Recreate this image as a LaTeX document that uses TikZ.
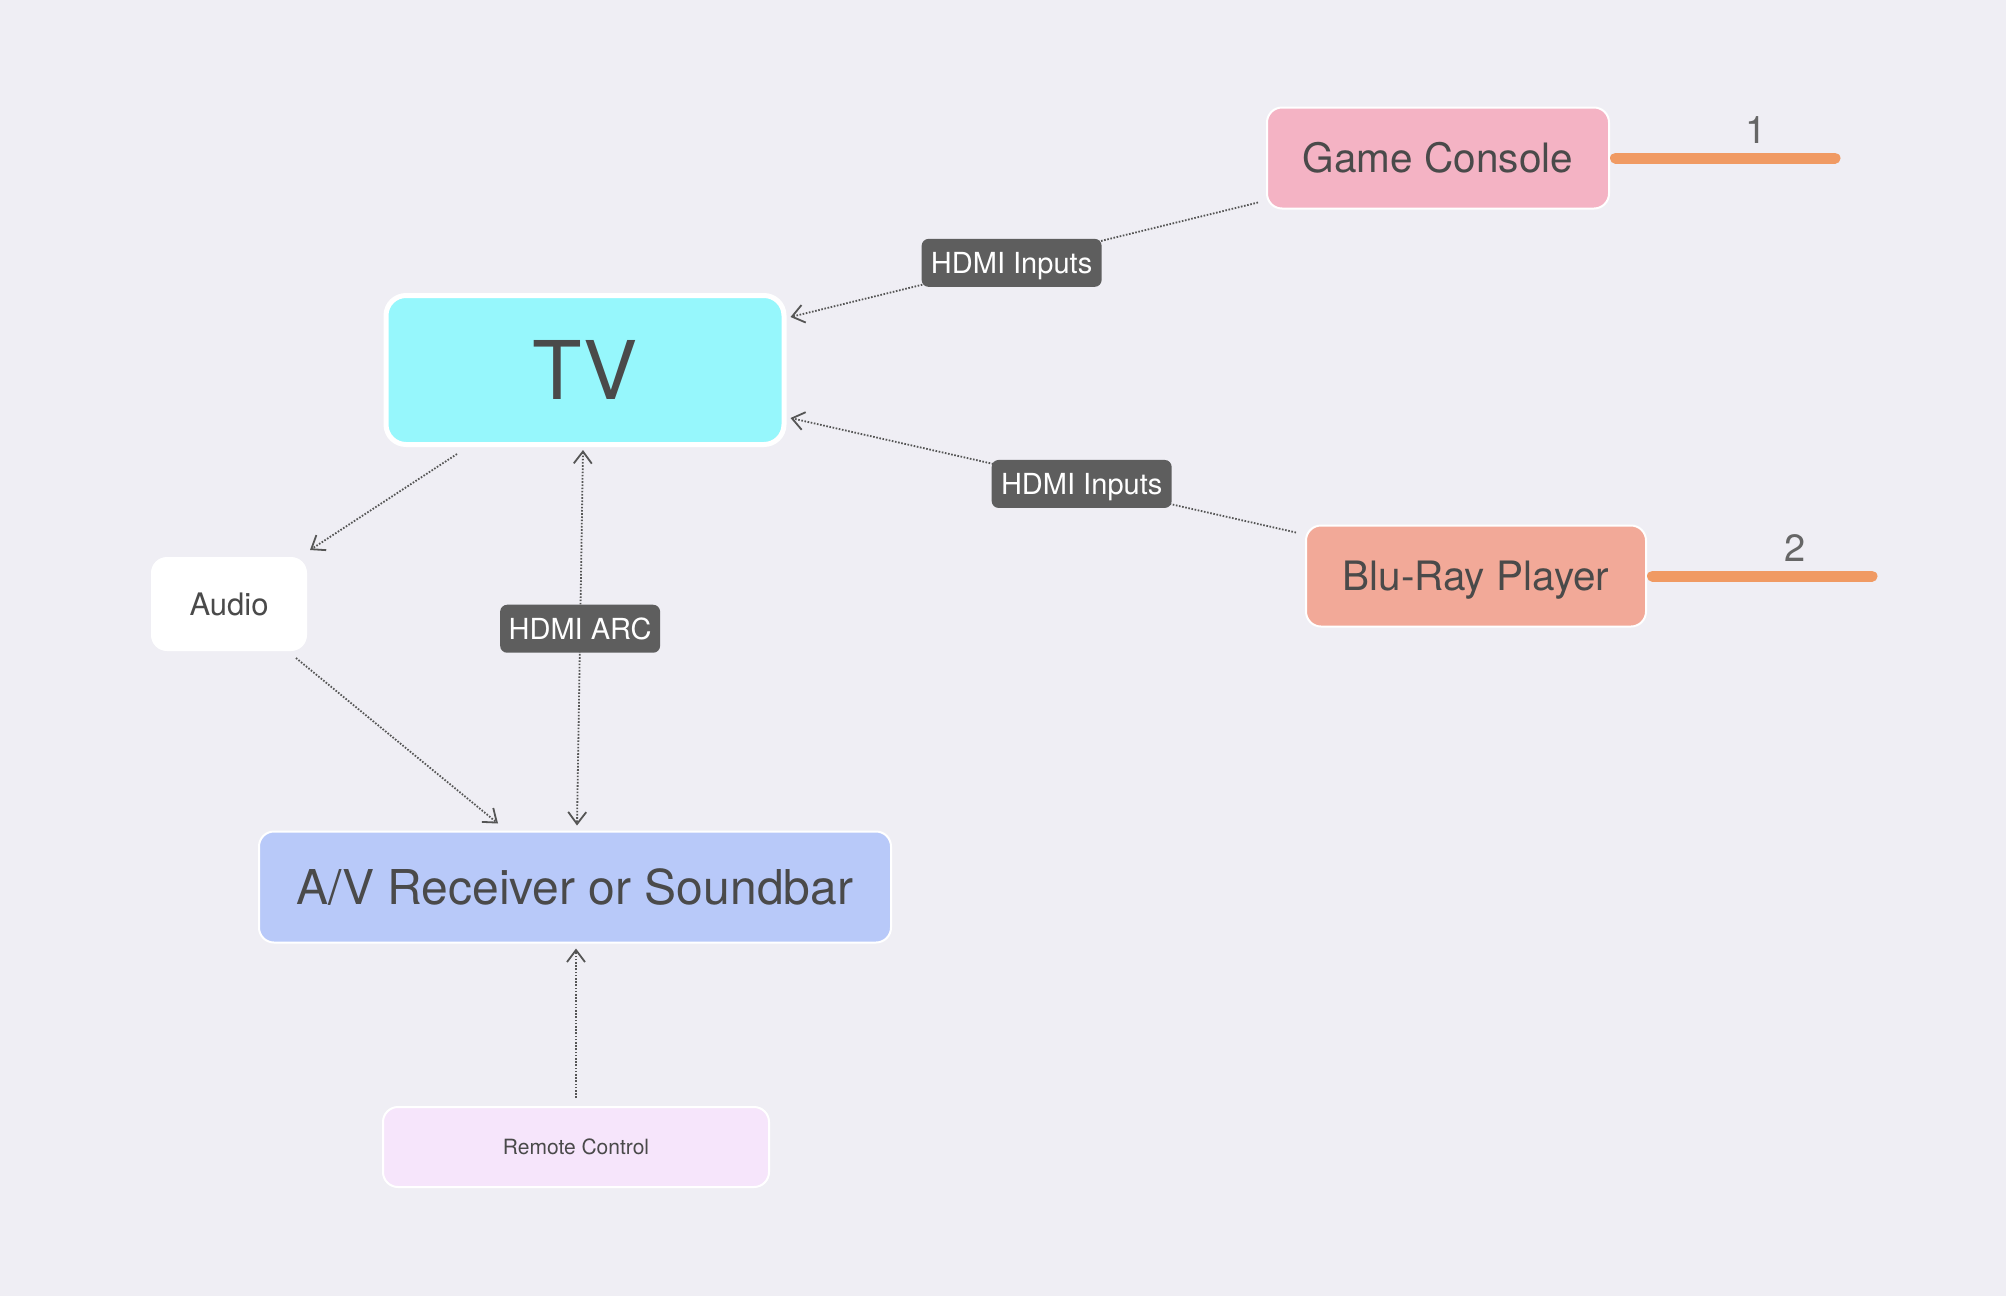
\documentclass[tikz,border=0pt]{standalone}
\usepackage{fontspec}
\setmainfont{TeX Gyre Heros}
\usepackage{xcolor}
\usetikzlibrary{positioning, arrows.meta}

\definecolor{bgcol}{RGB}{239,238,244}
\definecolor{txtcol}{RGB}{74,74,74}
\definecolor{tvcol}{RGB}{150,247,252}
\definecolor{gamecol}{RGB}{244,179,196}
\definecolor{bluraycol}{RGB}{242,169,152}
\definecolor{avcol}{RGB}{184,201,249}
\definecolor{remotecol}{RGB}{246,229,251}
\definecolor{leadcol}{RGB}{240,154,99}
\definecolor{tagcol}{RGB}{94,94,94}
\definecolor{linkcol}{RGB}{85,85,85}
\definecolor{numcol}{RGB}{102,102,102}

\begin{document}
\begin{tikzpicture}[x=1pt, y=-1pt,
    box/.style={draw=white, line width=2pt, rounded corners=15pt, text=txtcol, inner sep=0pt},
    tag/.style={fill=tagcol, rounded corners=7pt, text=white, inner sep=0pt,
        text height=21pt, text depth=0pt,
        minimum height=48pt, font=\fontsize{29}{34}\selectfont},
    link/.style={draw=linkcol, line width=1.8pt, dash pattern=on 1.6pt off 1.6pt},
    tip/.style={-{Straight Barb[length=12pt, width=18pt, line width=1.8pt]}},
    twotip/.style={{Straight Barb[length=12pt, width=18pt, line width=1.8pt]}-{Straight Barb[length=12pt, width=18pt, line width=1.8pt]}},
    lead/.style={draw=leadcol, line width=11pt, line cap=round},
    num/.style={text=numcol, font=\fontsize{38}{44}\selectfont}]

    \fill[bgcol] (0,0) rectangle (2006,1296);

    \node[box, fill=tvcol, line width=5pt, rounded corners=20pt, minimum width=398pt, minimum height=149pt,
        font=\fontsize{81}{90}\selectfont] (tv) at (585,370) {TV};
    \node[box, fill=gamecol, minimum width=342pt, minimum height=101pt,
        font=\fontsize{40.5}{48}\selectfont] (game) at (1438,158) {Game Console};
    \node[box, fill=bluraycol, minimum width=340pt, minimum height=101pt, text depth=0pt,
        font=\fontsize{40.5}{48}\selectfont] (bluray) at (1476,576) {Blu-Ray Player};
    \node[box, fill=white, minimum width=154pt, minimum height=92pt,
        font=\fontsize{31}{36}\selectfont] (audio) at (229,604) {Audio};
    \node[box, fill=avcol, minimum width=632pt, minimum height=111pt,
        font=\fontsize{48}{54}\selectfont] (av) at (575,887) {A/V Receiver or Soundbar};
    \node[box, fill=remotecol, minimum width=386pt, minimum height=80pt,
        font=\fontsize{21}{26}\selectfont] (remote) at (576,1147) {Remote Control};

    \coordinate (gameend) at ([xshift=225pt]game.east);
    \coordinate (blurayend) at ([xshift=225pt]bluray.east);
    \draw[lead] ([xshift=5.5pt]game.east) -- (gameend) node[num, pos=0.64, above=6pt] (num1) {1};
    \draw[lead] ([xshift=5.5pt]bluray.east) -- (blurayend) node[num, pos=0.65, above=6pt] (num2) {2};

    \draw[link, tip] ([xshift=-8pt, yshift=-44.5pt]game.west) -- ([xshift=4pt, yshift=53pt]tv.east)
        node[tag, pos=0.527, minimum width=180pt] (in1) {HDMI Inputs};
    \draw[link, tip] ([xshift=-9pt, yshift=43.5pt]bluray.west) -- ([xshift=4pt, yshift=-48pt]tv.east)
        node[tag, pos=0.424, minimum width=180pt] (in2) {HDMI Inputs};
    \draw[link, tip] ([xshift=-128pt, yshift=-7pt]tv.south) -- ([xshift=81pt, yshift=7pt]audio.north);
    \draw[link, tip] ([xshift=67pt, yshift=-7pt]audio.south) -- ([xshift=-77pt, yshift=7pt]av.north);
    \draw[link, twotip] ([xshift=-2pt, yshift=-3pt]tv.south) -- ([xshift=2pt, yshift=5pt]av.north)
        node[tag, pos=0.476, minimum width=160pt] (arc) {HDMI ARC};
    \draw[link, tip] ([yshift=8pt]remote.north) -- ([xshift=1pt, yshift=-5pt]av.south);
\end{tikzpicture}
\end{document}
